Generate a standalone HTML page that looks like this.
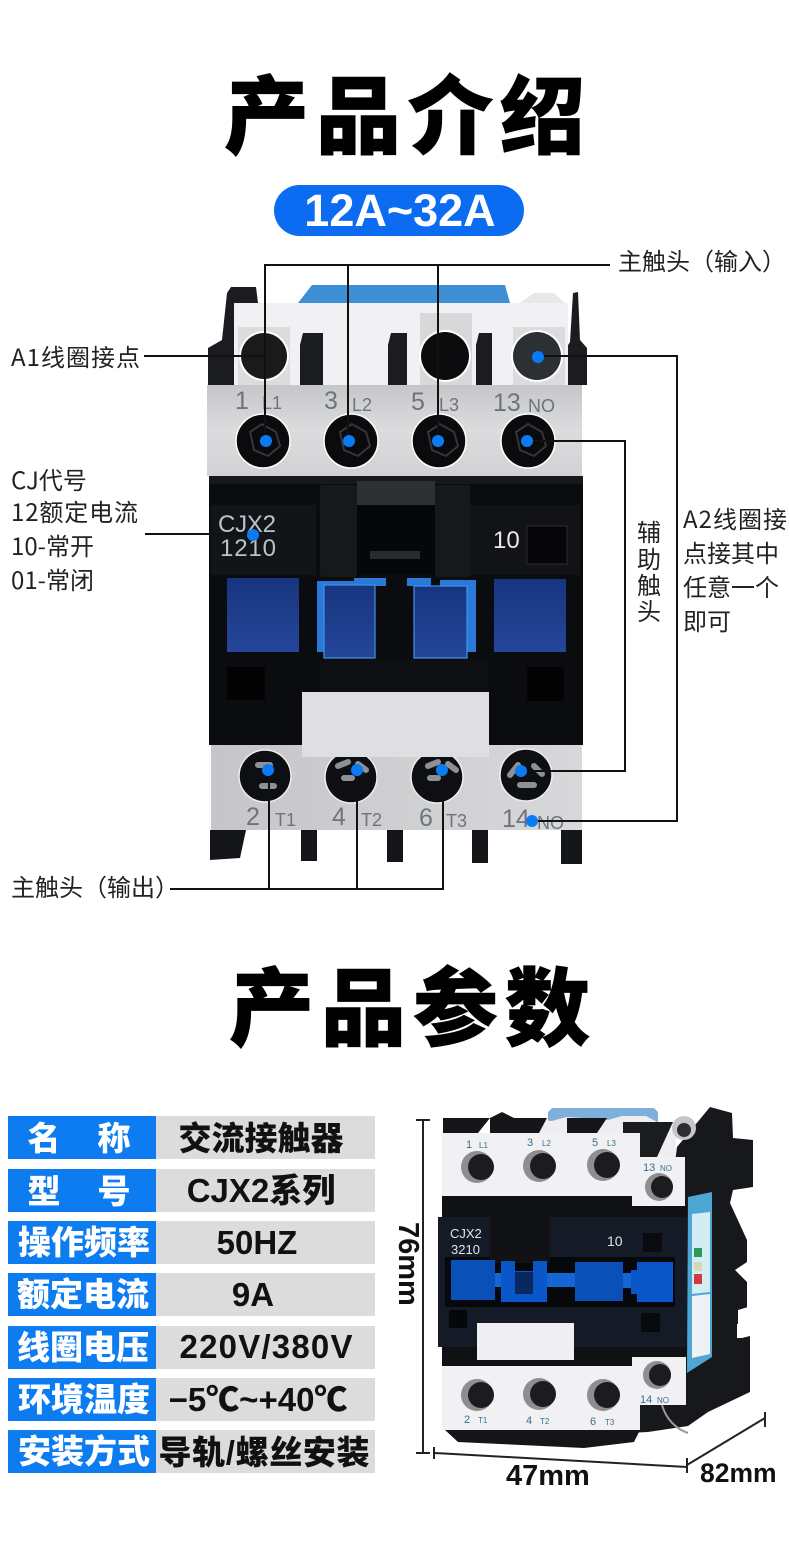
<!DOCTYPE html>
<html><head><meta charset="utf-8">
<style>
html,body{margin:0;padding:0;background:#fff}
svg{display:block}
text{font-family:"Liberation Sans","Noto Sans CJK SC",sans-serif}
.t{font-family:"Noto Sans CJK SC",sans-serif;font-weight:900;font-size:85px;letter-spacing:7px;fill:#000;stroke:#000;stroke-width:.8}
.l{font-family:"Noto Sans CJK SC",sans-serif;font-size:24px;fill:#222}
.w{font-family:"Liberation Sans","Noto Sans CJK SC",sans-serif;font-weight:900;font-size:33px;fill:#fff;text-anchor:middle}
.k{font-family:"Liberation Sans","Noto Sans CJK SC",sans-serif;font-weight:900;font-size:33px;fill:#111;text-anchor:middle}
.g{font-size:25px;fill:#69767c}
.s{font-size:18px;fill:#69767c}
.ln{stroke:#111;stroke-width:2;fill:none}
</style></head>
<body>
<svg width="790" height="1541" viewBox="0 0 790 1541" xmlns="http://www.w3.org/2000/svg">
<defs>
<linearGradient id="g1" x1="0" y1="0" x2="0" y2="1"><stop offset="0" stop-color="#c6c6c9"/><stop offset="0.5" stop-color="#dcdcde"/><stop offset="1" stop-color="#d2d2d4"/></linearGradient>
<linearGradient id="g2" x1="0" y1="0" x2="1" y2="0"><stop offset="0" stop-color="#c5c5ca"/><stop offset="0.5" stop-color="#cfcfd2"/><stop offset="1" stop-color="#d8d8da"/></linearGradient>
<linearGradient id="b1" x1="0" y1="0" x2="0" y2="1"><stop offset="0" stop-color="#17347f"/><stop offset="1" stop-color="#254699"/></linearGradient>
</defs>
<rect width="790" height="1541" fill="#fff"/>

<text class="t" x="224" y="147">产品介绍</text>
<rect x="274" y="185" width="250" height="51" rx="25.5" fill="#0b6cf2"/>
<text x="400" y="226" text-anchor="middle" font-size="45" font-weight="700" fill="#fff">12A~32A</text>

<!-- Top contactor -->
<path d="M208 348l14-8 5-47 4-6h25l2 16h-24v82h-26z" fill="#1a1c20"/>
<path d="M565 350l5-8 3-49 5-1 2 48 7 8v37h-22z" fill="#1a1c20"/>
<path d="M298 303l14-18h193l5 18z" fill="#3d8fd6"/>
<path d="M520 303l14-10h20l11 10z" fill="#e8e8ea"/>
<path d="M234 303H568v82H234z" fill="#f1f1f3"/>
<rect x="238" y="327" width="52" height="58" fill="#dcdcde"/>
<rect x="420" y="313" width="52" height="72" fill="#d8d8da"/>
<rect x="513" y="327" width="52" height="58" fill="#dcdcde"/>
<circle cx="264" cy="356" r="25" fill="#fff"/><circle cx="264" cy="356" r="23" fill="#191a1c"/>
<circle cx="445" cy="356" r="26" fill="#fff"/><circle cx="445" cy="356" r="24" fill="#0c0c0e"/>
<circle cx="537" cy="356" r="26" fill="#fff"/><circle cx="537" cy="356" r="24" fill="#2c3034"/>
<path d="M300 345l3-12h20v52h-23z" fill="#1a1c20"/>
<path d="M388 345l3-12h16v52h-19z" fill="#1a1c20"/>
<path d="M476 345l3-12h13v52h-16z" fill="#1a1c20"/>

<rect x="207" y="385" width="375" height="91" fill="url(#g1)"/>
<rect x="209" y="476" width="374" height="269" fill="#0b0c10"/>
<rect x="209" y="476" width="374" height="8" fill="#16181c"/>

<g>
<text class="g" x="235" y="409">1</text><text class="s" x="262" y="409">L1</text>
<text class="g" x="324" y="409">3</text><text class="s" x="352" y="411">L2</text>
<text class="g" x="411" y="410">5</text><text class="s" x="439" y="411">L3</text>
<text class="g" x="493" y="411">13</text><text class="s" x="528" y="412">NO</text>
</g>
<g fill="#0b0b0d" stroke="#fff" stroke-width="1.5">
<circle cx="263" cy="441" r="27"/><circle cx="351" cy="441" r="27"/><circle cx="439" cy="441" r="27"/><circle cx="528" cy="441" r="27"/>
</g>
<g fill="none" stroke="#34363a" stroke-width="2">
<path d="M250 432l12-8 14 8 4 14-12 10-14-6z"/><path d="M340 432l12-8 14 8 4 14-12 10-14-6z"/><path d="M428 432l12-8 14 8 4 14-12 10-14-6z"/><path d="M516 432l12-8 14 8 4 14-12 10-14-6z"/>
</g>

<!-- body detail -->
<rect x="211" y="505" width="105" height="70" fill="#121418"/>
<rect x="470" y="505" width="110" height="70" fill="#111317"/>
<rect x="320" y="485" width="37" height="92" rx="3" fill="#17181c"/>
<rect x="435" y="485" width="35" height="92" rx="3" fill="#17181c"/>
<path d="M357 481h78v24h-78z" fill="#2e3034"/>
<rect x="357" y="505" width="78" height="70" fill="#060709"/>
<rect x="370" y="551" width="50" height="8" fill="#2a2b2e"/>
<text x="493" y="548" font-size="24" fill="#e8e8ea">10</text>
<rect x="527" y="526" width="40" height="38" fill="#060608" stroke="#2a2c30" stroke-width="1"/>
<text x="218" y="532" font-size="24" fill="#b7c4cc" textLength="58">CJX2</text>
<text x="220" y="556" font-size="24" fill="#b7c4cc" textLength="56">1210</text>

<rect x="227" y="578" width="72" height="74" fill="url(#b1)"/>
<rect x="494" y="579" width="72" height="73" fill="url(#b1)"/>
<rect x="317" y="581" width="58" height="71" fill="#2a78d8"/>
<rect x="354" y="578" width="32" height="8" fill="#2a78d8"/>
<rect x="407" y="578" width="24" height="8" fill="#2a78d8"/>
<rect x="440" y="580" width="36" height="72" fill="#2a78d8"/>
<rect x="324" y="585" width="51" height="73" fill="url(#b1)" stroke="#3f95e8" stroke-width="1.2"/>
<rect x="414" y="586" width="53" height="72" fill="url(#b1)" stroke="#3f95e8" stroke-width="1.2"/>
<rect x="388" y="580" width="19" height="80" fill="#0b0c0f"/>
<rect x="227" y="667" width="38" height="33" fill="#030304"/>
<rect x="527" y="667" width="37" height="34" fill="#030304"/>
<rect x="319" y="660" width="170" height="32" fill="#0e0f12"/>

<rect x="211" y="745" width="371" height="85" fill="url(#g2)"/>
<g fill="#141518"><path d="M210 830h36l-6 28-30 2z"/><rect x="301" y="830" width="16" height="31"/><rect x="387" y="830" width="16" height="32"/><rect x="472" y="830" width="16" height="33"/><rect x="561" y="830" width="21" height="34"/></g>
<g fill="#0e0f12" stroke="#eee" stroke-width="1.5">
<circle cx="265" cy="776" r="26"/><circle cx="351" cy="777" r="26"/><circle cx="437" cy="777" r="26"/><circle cx="526" cy="775" r="26"/>
</g>
<g stroke="#8d9095" stroke-width="6" stroke-linecap="round">
<path d="M258 765h12M262 786h12"/><path d="M338 766l10-4M358 764l8 6M344 778h8"/><path d="M428 766l10-4M448 764l8 6M430 778h8"/><path d="M510 775l8-10M534 766l8 8M520 785h14"/>
</g>
<rect x="302" y="692" width="187" height="65" fill="#dfdfe1"/>
<g>
<text class="g" x="246" y="825">2</text><text class="s" x="275" y="826">T1</text>
<text class="g" x="332" y="825">4</text><text class="s" x="361" y="826">T2</text>
<text class="g" x="419" y="826">6</text><text class="s" x="446" y="827">T3</text>
<text class="g" x="502" y="827">14</text><text class="s" x="537" y="829">NO</text>
</g>

<!-- connectors -->
<g class="ln">
<path d="M265 441V265H610"/><path d="M348 441V265"/><path d="M438 441V265"/>
<path d="M144 356H266"/>
<path d="M537 356H677V821H533"/>
<path d="M527 441H625V771H521"/>
<path d="M145 534H253"/>
<path d="M269 771V889H170"/><path d="M357 771V889"/><path d="M443 771V889H269"/>
</g>
<g fill="#0b7bf5">
<circle cx="266" cy="441" r="6"/><circle cx="349" cy="441" r="6"/><circle cx="438" cy="441" r="6"/><circle cx="527" cy="441" r="6"/>
<circle cx="538" cy="357" r="6"/><circle cx="253" cy="535" r="6"/>
<circle cx="268" cy="770" r="6"/><circle cx="357" cy="770" r="6"/><circle cx="442" cy="770" r="6"/><circle cx="521" cy="771" r="6"/><circle cx="532" cy="821" r="6"/>
</g>

<!-- labels -->
<text class="l" x="618" y="270">主触头（输入）</text>
<text class="l" x="11" y="366" textLength="129">A1线圈接点</text>
<text class="l" x="11" y="489">CJ代号</text>
<text class="l" x="11" y="521" textLength="127">12额定电流</text>
<text class="l" x="11" y="555">10-常开</text>
<text class="l" x="11" y="589">01-常闭</text>
<text class="l" x="683" y="528" textLength="104">A2线圈接</text>
<text class="l" x="683" y="562">点接其中</text>
<text class="l" x="683" y="596">任意一个</text>
<text class="l" x="683" y="630">即可</text>
<text class="l" x="637" y="541">辅</text>
<text class="l" x="637" y="568">助</text>
<text class="l" x="637" y="594">触</text>
<text class="l" x="637" y="620">头</text>
<text class="l" x="11" y="896">主触头（输出）</text>

<text class="t" x="229" y="1039">产品参数</text>

<!-- table -->
<g fill="#0c7cf0">
<rect x="8" y="1116" width="148" height="43"/><rect x="8" y="1169" width="148" height="43"/><rect x="8" y="1221" width="148" height="43"/><rect x="8" y="1273" width="148" height="43"/><rect x="8" y="1326" width="148" height="43"/><rect x="8" y="1378" width="148" height="43"/><rect x="8" y="1430" width="148" height="43"/>
</g>
<g fill="#dcdcdc">
<rect x="156" y="1116" width="219" height="43"/><rect x="156" y="1169" width="219" height="43"/><rect x="156" y="1221" width="219" height="43"/><rect x="156" y="1273" width="219" height="43"/><rect x="156" y="1326" width="219" height="43"/><rect x="156" y="1378" width="219" height="43"/><rect x="156" y="1430" width="219" height="43"/>
</g>
<text class="w" x="44" y="1150">名</text><text class="w" x="114" y="1150">称</text>
<text class="w" x="44" y="1203">型</text><text class="w" x="114" y="1203">号</text>
<text class="w" x="84" y="1254">操作频率</text>
<text class="w" x="83" y="1306">额定电流</text>
<text class="w" x="83" y="1359">线圈电压</text>
<text class="w" x="84" y="1411">环境温度</text>
<text class="w" x="84" y="1463">安装方式</text>
<text class="k" x="261" y="1150">交流接触器</text>
<text class="k" x="261" y="1202">CJX2系列</text>
<text class="k" x="257" y="1254">50HZ</text>
<text class="k" x="253" y="1306">9A</text>
<text class="k" x="266" y="1358" textLength="173">220V/380V</text>
<text class="k" x="258" y="1411">−5℃~+40℃</text>
<text class="k" x="264" y="1464" textLength="211">导轨/螺丝安装</text>

<!-- lower product -->
<path d="M548 1112l4-4h102l4 4v10H548z" fill="#7fb0dc"/>
<path d="M490 1133l14-16h2l46 4 14-4h2l40 3 14-4 24 0 30 16v25H490z" fill="#eeeef0"/>
<path d="M443 1118h47l-12 15h-35z" fill="#151618"/><path d="M490 1118l12-6 12 6-4 15h-20z" fill="#151618"/>
<path d="M503 1118h44l-8 15h-36z" fill="#151618"/>
<path d="M567 1118h40l-10 15h-30z" fill="#151618"/>
<path d="M623 1122h50l-16 35h-17v-24h-17z" fill="#1b1c1f"/>
<path d="M677 1147l33-40 22 6 1 25 20 2v47l-20 3-3 13 17 37v22l-12 8 12 12v40l-10 2v14l5 0 8-2v56l-42 20-20 14-40 6-40 2v-60h40z" fill="#17181b"/>
<path d="M733 1190l14 20-3 6-11-8z" fill="#fff"/>
<path d="M738 1310l10-3v20l-10-2z" fill="#fff"/>
<circle cx="684" cy="1128" r="12" fill="#c4c6c9"/><circle cx="684" cy="1130" r="7" fill="#2c2d30"/>
<path d="M442 1133H640V1157H685V1206H632V1196H442z" fill="#f1f1f3"/>
<path d="M442 1196H632V1206H687V1357H632V1366H442z" fill="#101115"/>
<rect x="438" y="1217" width="249" height="130" fill="#141a26"/>
<rect x="445" y="1257" width="230" height="50" fill="#07080b"/>
<rect x="490" y="1217" width="60" height="46" fill="#101216"/>
<g fill="#0b4fb8">
<rect x="451" y="1260" width="44" height="40"/><rect x="495" y="1273" width="6" height="14" fill="#1466d4"/>
<path d="M501 1261h14v10h18v-10h14v41h-46z" fill="#0a55c8"/>
<rect x="547" y="1273" width="28" height="14" fill="#1466d4"/>
<rect x="575" y="1262" width="48" height="39"/>
<rect x="623" y="1273" width="8" height="15" fill="#1466d4"/>
<path d="M631 1270h6v-8h36v40h-36v-8h-6z" fill="#0a55c8"/>
</g>
<rect x="515" y="1272" width="18" height="22" fill="#08285f"/>
<text x="450" y="1238" font-size="13" fill="#dfe4ea">CJX2</text>
<text x="451" y="1254" font-size="13" fill="#dfe4ea">3210</text>
<text x="607" y="1246" font-size="14" fill="#dfe4ea">10</text>
<rect x="643" y="1233" width="19" height="19" fill="#0a0b0e"/>
<rect x="449" y="1310" width="18" height="18" fill="#060709"/>
<rect x="641" y="1313" width="19" height="19" fill="#080a0d"/>
<rect x="477" y="1323" width="97" height="37" fill="#efeff1"/>
<path d="M442 1366H632V1357H686V1405H640V1430H442z" fill="#f1f1f3"/>
<path d="M445 1430H640l-6 12-50 6-84-4-42-2z" fill="#15161a"/>
<path d="M662 1405c4 14 14 24 26 28" stroke="#9a9a9c" stroke-width="2" fill="none"/>
<g fill="#8e8e90">
<circle cx="477" cy="1167" r="16"/><circle cx="539" cy="1166" r="16"/><circle cx="603" cy="1165" r="16"/><circle cx="659" cy="1187" r="14"/>
<circle cx="477" cy="1395" r="16"/><circle cx="539" cy="1394" r="16"/><circle cx="603" cy="1395" r="16"/><circle cx="657" cy="1375" r="14"/>
</g>
<g fill="#1a1c20">
<circle cx="481" cy="1167" r="13"/><circle cx="543" cy="1166" r="13"/><circle cx="607" cy="1165" r="13"/><circle cx="662" cy="1187" r="11"/>
<circle cx="481" cy="1395" r="13"/><circle cx="543" cy="1394" r="13"/><circle cx="607" cy="1395" r="13"/><circle cx="660" cy="1375" r="11"/>
</g>
<path d="M688 1197l24-5v165l-25 16z" fill="#4ea6d4"/>
<path d="M692 1214l18-2v80l-18 2z" fill="#d4ecf4"/>
<path d="M692 1296l18-2v60l-18 4z" fill="#eef2f4"/>
<rect x="694" y="1248" width="8" height="9" fill="#2b9a54"/><rect x="694" y="1262" width="8" height="9" fill="#d8d8b0"/><rect x="694" y="1274" width="8" height="10" fill="#d43a3a"/>
<g fill="#3a6d8f" font-size="11">
<text x="466" y="1148">1</text><text x="479" y="1148" font-size="8">L1</text>
<text x="527" y="1146">3</text><text x="542" y="1146" font-size="8">L2</text>
<text x="592" y="1146">5</text><text x="607" y="1146" font-size="8">L3</text>
<text x="643" y="1171">13</text><text x="660" y="1171" font-size="8">NO</text>
<text x="464" y="1423">2</text><text x="478" y="1423" font-size="8">T1</text>
<text x="526" y="1424">4</text><text x="540" y="1424" font-size="8">T2</text>
<text x="590" y="1425">6</text><text x="605" y="1425" font-size="8">T3</text>
<text x="640" y="1403">14</text><text x="657" y="1403" font-size="8">NO</text>
</g>

<!-- dimensions -->
<g stroke="#222" stroke-width="2" fill="none">
<path d="M416 1120H430M423 1120V1453M416 1453H430"/>
<path d="M434 1447V1459M435 1453L687 1467M687 1458V1473"/>
<path d="M687 1465L765 1418M765 1412V1427"/>
</g>
<text transform="translate(399,1222) rotate(90)" font-size="29" font-weight="700" fill="#111">76mm</text>
<text x="506" y="1485" font-size="29" font-weight="700" fill="#111">47mm</text>
<text x="700" y="1482" font-size="26.5" font-weight="700" fill="#111">82mm</text>
</svg>
</body></html>
